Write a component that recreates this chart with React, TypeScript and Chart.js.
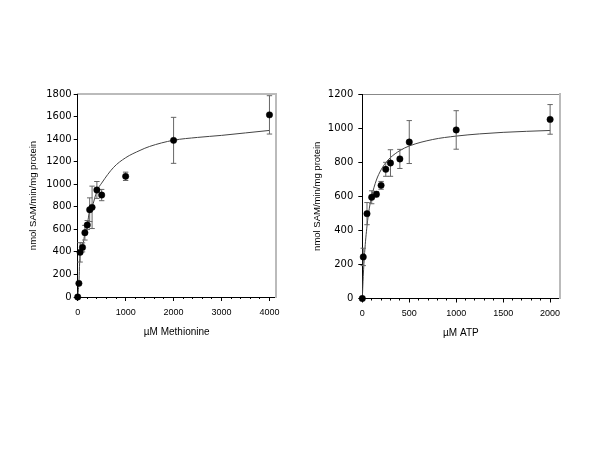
import React, { useEffect, useRef } from "react";
import { Chart, registerables } from "chart.js";

Chart.register(...registerables);

// ---------- Methionine panel ----------
const metX = [0, 25, 50, 100, 150, 200, 250, 300, 400, 500, 1000, 2000, 4000];
const metY = [0, 121, 396, 440, 570, 638, 774, 795, 949, 904, 1070, 1389, 1615];
const metErr = [0, 0, 86, 40, 65, 40, 105, 188, 75, 50, 37, 204, 170];
const metCurveX = [0, 25, 50, 100, 150, 200, 250, 300, 400, 500, 750, 1000, 1300, 1500, 2000, 2500, 3000, 3500, 4000];
const metCurveY = [0, 125, 385, 445, 565, 640, 770, 800, 940, 1010, 1150, 1235, 1300, 1335, 1390, 1415, 1433, 1455, 1477];
const metXTicks = [0, 1000, 2000, 3000, 4000];
const metYTicks = [0, 200, 400, 600, 800, 1000, 1200, 1400, 1600, 1800];

// ---------- ATP panel ----------
const atpX = [0, 10, 50, 100, 150, 200, 250, 300, 400, 500, 1000, 2000];
const atpY = [0, 244, 498, 594, 612, 664, 758, 795, 819, 918, 989, 1051];
const atpErr = [0, 51, 65, 38, 15, 23, 41, 78, 56, 126, 113, 87];
const atpCurveX = [0, 10, 25, 50, 75, 100, 150, 200, 250, 300, 400, 500, 750, 1000, 1250, 1500, 1750, 2000];
const atpCurveY = [0, 128, 270, 425, 530, 600, 695, 755, 797, 827, 868, 895, 933, 953, 966, 975, 981, 986];
const atpXTicks = [0, 500, 1000, 1500, 2000];
const atpYTicks = [0, 200, 400, 600, 800, 1000, 1200];

const yTitle = "nmol SAM/min/mg protein";

type Panel = {
  xs: number[]; ys: number[]; es: number[];
  cx: number[]; cy: number[];
  xTicks: number[]; yTicks: number[];
  xMax: number; yMax: number; minorStep: number;
  xTitle: string;
  pad: { left: number; top: number; right: number; bottom: number };
  yWidth: number; xHeight: number;
  yTitlePad: number; xTitlePad: number;
  yTickPad: number; xTickPad: number;
  topColor: string; topWidth: number;
};

function errPts(xs: number[], ys: number[], es: number[]) {
  const out: { x: number; y: number | null }[] = [];
  xs.forEach((x, i) => {
    if (es[i] > 0) {
      out.push({ x, y: ys[i] - es[i] }, { x, y: ys[i] + es[i] }, { x, y: null });
    }
  });
  return out;
}

function makeChart(canvas: HTMLCanvasElement, p: Panel) {
  const pts = p.xs.map((x, i) => ({ x, y: p.ys[i] }));
  const curve = p.cx.map((x, i) => ({ x, y: p.cy[i] }));
  const tickFont = { family: "'Liberation Sans', Arial, sans-serif", size: 9 };
  const yTickFont = { family: "'DejaVu Sans', sans-serif", size: 10 };
  const titleFont = { family: "'Liberation Sans', Arial, sans-serif", size: 9.5 };
  return new Chart(canvas, {
    type: "scatter",
    data: {
      datasets: [
        {
          label: "mean",
          data: pts,
          showLine: false,
          pointRadius: 3.2,
          pointBackgroundColor: "#000",
          pointBorderColor: "#000",
          pointBorderWidth: 0.5,
          order: 0,
          clip: false,
        } as any,
        {
          label: "sem",
          data: errPts(p.xs, p.ys, p.es),
          showLine: true,
          spanGaps: false,
          borderColor: "#666",
          borderWidth: 1,
          pointStyle: "line",
          pointRadius: 2.7,
          pointBorderColor: "#666",
          pointBorderWidth: 1,
          order: 1,
          clip: false,
        } as any,
        {
          label: "fit",
          data: curve,
          showLine: true,
          borderColor: "#444",
          borderWidth: 1,
          pointRadius: 0,
          cubicInterpolationMode: "monotone",
          order: 2,
          clip: false,
        } as any,
      ],
    },
    options: {
      animation: false,
      responsive: false,
      events: [],
      layout: { padding: p.pad },
      plugins: { legend: { display: false }, tooltip: { enabled: false } },
      scales: {
        x: {
          type: "linear",
          position: "bottom",
          weight: 1,
          min: 0,
          max: p.xMax,
          afterBuildTicks: (s: any) => { s.ticks = p.xTicks.map((value) => ({ value })); },
          afterFit: (s: any) => { s.height = p.xHeight; },
          ticks: { color: "#000", font: tickFont, padding: p.xTickPad, maxRotation: 0, autoSkip: false, callback: (v: any) => String(v) },
          grid: { drawOnChartArea: false, drawTicks: true, tickLength: 4, color: "#000", lineWidth: 1 },
          border: { display: true, color: "#000", width: 1 },
          title: { display: true, text: p.xTitle, color: "#000", font: { ...titleFont, size: 10 }, padding: { top: 0, bottom: p.xTitlePad } },
        },
        xMinor: {
          type: "linear",
          axis: "x",
          position: "bottom",
          weight: 0,
          min: 0,
          max: p.xMax,
          ticks: { display: false, stepSize: p.minorStep },
          afterBuildTicks: (s: any) => { s.ticks = s.ticks.filter((t: any) => t.value <= p.xTicks[p.xTicks.length - 1] + 1e-6 && Math.abs(t.value / p.minorStep - Math.round(t.value / p.minorStep)) < 1e-6); },
          afterFit: (s: any) => { s.height = 0; },
          grid: { drawOnChartArea: false, drawTicks: true, tickLength: 2, color: "#000", lineWidth: 1 },
          border: { display: false },
        },
        xTop: {
          type: "linear",
          axis: "x",
          position: "top",
          min: 0,
          max: p.xMax,
          ticks: { display: false },
          afterFit: (s: any) => { s.height = 0; },
          grid: { drawOnChartArea: false, drawTicks: false },
          border: { display: true, color: p.topColor, width: p.topWidth },
        },
        y: {
          type: "linear",
          position: "left",
          min: 0,
          max: p.yMax,
          afterBuildTicks: (s: any) => { s.ticks = p.yTicks.map((value) => ({ value })); },
          afterFit: (s: any) => { s.width = p.yWidth; },
          ticks: { color: "#000", font: yTickFont, padding: p.yTickPad, autoSkip: false, callback: (v: any) => String(v) },
          grid: { drawOnChartArea: false, drawTicks: true, tickLength: 4, color: "#000", lineWidth: 1 },
          border: { display: true, color: "#000", width: 1 },
          title: { display: true, text: yTitle, color: "#000", font: titleFont, padding: { top: p.yTitlePad, bottom: 0 } },
        },
        yRight: {
          type: "linear",
          axis: "y",
          position: "right",
          min: 0,
          max: p.yMax,
          ticks: { display: false },
          afterFit: (s: any) => { s.width = 0; },
          grid: { drawOnChartArea: false, drawTicks: false },
          border: { display: true, color: "#bbb", width: 2 },
        },
      } as any,
    },
  });
}

const metPanel: Panel = {
  xs: metX, ys: metY, es: metErr, cx: metCurveX, cy: metCurveY,
  xTicks: metXTicks, yTicks: metYTicks, xMax: 4130, yMax: 1800, minorStep: 200,
  xTitle: "µM Methionine",
  pad: { left: 0, top: 94, right: 24.3, bottom: 103 },
  yWidth: 77.7, xHeight: 50, yTitlePad: 27.6, xTitlePad: 8.5, yTickPad: 2, xTickPad: 6.5,
  topColor: "#bbb", topWidth: 2,
};

const atpPanel: Panel = {
  xs: atpX, ys: atpY, es: atpErr, cx: atpCurveX, cy: atpCurveY,
  xTicks: atpXTicks, yTicks: atpYTicks, xMax: 2100, yMax: 1200, minorStep: 100,
  xTitle: "µM ATP",
  pad: { left: 0, top: 94, right: 40.5, bottom: 101.5 },
  yWidth: 62.3, xHeight: 50, yTitlePad: 11.3, xTitlePad: 9.5, yTickPad: 5, xTickPad: 5.2,
  topColor: "#888", topWidth: 1,
};

function PanelChart({ panel, left }: { panel: Panel; left: number }) {
  const ref = useRef<HTMLCanvasElement | null>(null);
  useEffect(() => {
    if (!ref.current) return;
    const chart = makeChart(ref.current, panel);
    return () => chart.destroy();
  }, [panel]);
  return (
    <div style={{ position: "absolute", left, top: 0, width: 300, height: 450 }}>
      <canvas ref={ref} width={300} height={450} style={{ width: 300, height: 450, display: "block" }} />
    </div>
  );
}

export default function App() {
  return (
    <div style={{ position: "absolute", left: 0, top: 0, width: 600, height: 450, background: "#fff", overflow: "hidden" }}>
      <PanelChart panel={metPanel} left={0} />
      <PanelChart panel={atpPanel} left={300} />
    </div>
  );
}
